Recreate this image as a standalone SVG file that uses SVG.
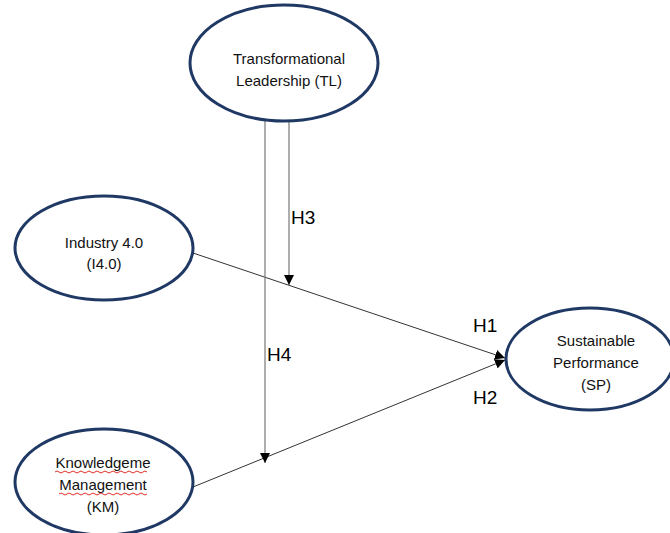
<svg xmlns="http://www.w3.org/2000/svg" width="670" height="533" viewBox="0 0 670 533">
<style>
.node{fill:#fff;stroke:#1f3864;stroke-width:3}
.t{font-family:"Liberation Sans",Arial,sans-serif;font-size:15px;fill:#111;text-anchor:middle}
.h{font-family:"Liberation Sans",Arial,sans-serif;font-size:19px;fill:#000}
.ln{stroke:#333;stroke-width:1;fill:none}
.vl{stroke:#777;stroke-width:1.2;fill:none}
.sq{stroke:#e0302a;stroke-width:1;fill:none}
</style>
<defs>
<marker id="ah" viewBox="0 0 10 10" refX="10" refY="5" markerWidth="10" markerHeight="10" markerUnits="userSpaceOnUse" orient="auto">
<path d="M0,0 L10,5 L0,10 z" fill="#000"/>
</marker>
</defs>
<rect width="670" height="533" fill="#fff"/>
<g id="connectors">
<line class="ln" x1="193" y1="253" x2="505" y2="358" marker-end="url(#ah)"/>
<line class="ln" x1="193" y1="487" x2="505" y2="360" marker-end="url(#ah)"/>
<line class="vl" x1="265" y1="121" x2="265" y2="463" marker-end="url(#ah)"/>
<line class="vl" x1="289" y1="121" x2="289" y2="285" marker-end="url(#ah)"/>
<text class="h" x="291" y="224">H3</text>
<text class="h" x="267" y="361">H4</text>
<text class="h" x="473" y="332">H1</text>
<text class="h" x="473" y="404">H2</text>
</g>
<g id="TL">
<ellipse class="node" cx="284" cy="63" rx="94" ry="58"/>
<text class="t" x="289" y="64">Transformational</text>
<text class="t" x="289" y="86">Leadership (TL)</text>
</g>
<g id="I40">
<ellipse class="node" cx="104" cy="248" rx="89" ry="52"/>
<text class="t" x="104" y="248">Industry 4.0</text>
<text class="t" x="104" y="269">(I4.0)</text>
</g>
<g id="KM">
<ellipse class="node" cx="104" cy="482" rx="89" ry="53"/>
<text class="t" x="103" y="468">Knowledgeme</text>
<path class="sq" d="M55,472 q2,-2 4,0 t4,0 t4,0 t4,0 t4,0 t4,0 t4,0 t4,0 t4,0 t4,0 t4,0 t4,0 t4,0 t4,0 t4,0 t4,0 t4,0 t4,0 t4,0 t4,0 t4,0 t4,0 t4,0"/>
<text class="t" x="103" y="490">Management</text>
<path class="sq" d="M59,494 q2,-2 4,0 t4,0 t4,0 t4,0 t4,0 t4,0 t4,0 t4,0 t4,0 t4,0 t4,0 t4,0 t4,0 t4,0 t4,0 t4,0 t4,0 t4,0 t4,0 t4,0 t4,0 t4,0"/>
<text class="t" x="103" y="512">(KM)</text>
</g>
<g id="SP">
<ellipse class="node" cx="590" cy="359" rx="84" ry="51"/>
<text class="t" x="596" y="346">Sustainable</text>
<text class="t" x="596" y="368">Performance</text>
<text class="t" x="596" y="390">(SP)</text>
</g>
</svg>
